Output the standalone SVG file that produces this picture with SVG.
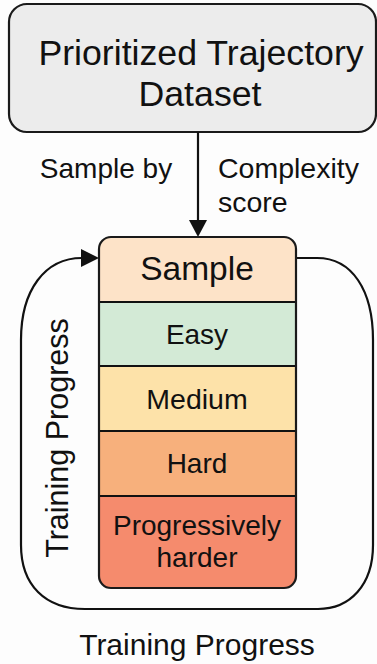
<svg xmlns="http://www.w3.org/2000/svg" width="377" height="664" viewBox="0 0 377 664">
<defs>
<style>
text{font-family:"Liberation Sans",Arial,sans-serif;fill:#111;text-anchor:middle}
.box{stroke:#1a1a1a;stroke-width:2.2}
.line{fill:none;stroke:#111;stroke-width:2.2}
.head{fill:#111}
</style>
<clipPath id="stackclip"><rect x="99" y="237" width="197" height="351" rx="12"/></clipPath>
</defs>
<rect width="377" height="664" fill="#fdfdfd"/>
<g id="dataset">
<rect class="box" x="9" y="4" width="367" height="128" rx="18" fill="#ececec"/>
<text x="201" y="65" font-size="35.7">Prioritized Trajectory</text>
<text x="200" y="106" font-size="35.7">Dataset</text>
</g>
<g id="connectors">
<line class="line" x1="198" y1="132" x2="198" y2="221"/>
<polygon class="head" points="189,220 207,220 198,237"/>
<path class="line" d="M296,258 H317 C352,258 373,290 373,340 V545 C373,585 350,609 318,609 H85 C45,609 21,585 21,545 V340 C21,290 45,258 82,258"/>
<polygon class="head" points="81,249 81,267 99,258"/>
</g>
<g id="labels">
<text x="106" y="178" font-size="28">Sample by</text>
<text x="218" y="178" font-size="28.5" style="text-anchor:start">Complexity</text>
<text x="218" y="212" font-size="28.5" style="text-anchor:start">score</text>
<text x="197" y="655" font-size="30">Training Progress</text>
<text transform="translate(68,438) rotate(-90)" font-size="30.5">Training Progress</text>
</g>
<g id="stack">
<g clip-path="url(#stackclip)">
<rect x="99" y="237" width="197" height="65" fill="#fde3c8"/>
<rect x="99" y="302" width="197" height="64" fill="#d3ead6"/>
<rect x="99" y="366" width="197" height="65" fill="#fde2a9"/>
<rect x="99" y="431" width="197" height="65" fill="#f7b07c"/>
<rect x="99" y="496" width="197" height="92" fill="#f58b6d"/>
</g>
<line class="line" x1="99" y1="302" x2="296" y2="302"/>
<line class="line" x1="99" y1="366" x2="296" y2="366"/>
<line class="line" x1="99" y1="431" x2="296" y2="431"/>
<line class="line" x1="99" y1="496" x2="296" y2="496"/>
<rect class="box" x="99" y="237" width="197" height="351" rx="12" fill="none"/>
</g>
<g id="sample"><text x="197" y="280" font-size="33.5">Sample</text></g>
<g id="easy"><text x="197" y="344" font-size="28">Easy</text></g>
<g id="medium"><text x="197" y="409" font-size="28.5">Medium</text></g>
<g id="hard"><text x="197" y="473" font-size="28">Hard</text></g>
<g id="harder"><text x="197" y="535" font-size="28">Progressively</text><text x="197" y="567" font-size="28">harder</text></g>
</svg>
